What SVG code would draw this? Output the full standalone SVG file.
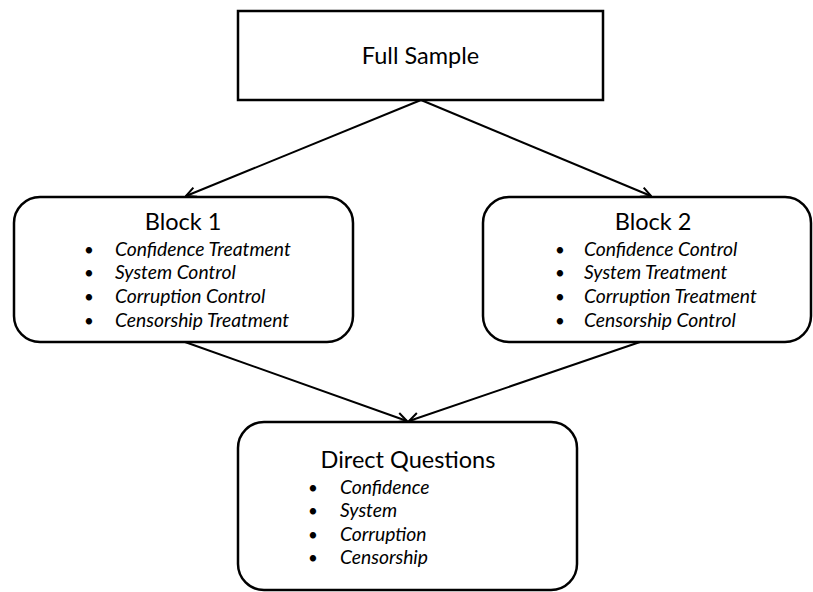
<svg xmlns="http://www.w3.org/2000/svg" width="813" height="592" viewBox="0 0 813 592">
<defs>
<style>
.box{fill:#fff;stroke:#000;stroke-width:2.5}
.title{font-family:Lato,"Liberation Sans",sans-serif;font-size:23.5px;fill:#000;text-anchor:middle}
.item{font-family:Lato,"Liberation Sans",sans-serif;font-size:19.3px;font-style:italic;fill:#000}
.bul{font-family:Lato,"Liberation Sans",sans-serif;font-size:17px;fill:#000}
.conn{stroke:#000;stroke-width:2;fill:none;marker-end:url(#arr)}
</style>
<marker id="arr" viewBox="0 0 12 12" refX="11" refY="6" markerWidth="12" markerHeight="12" markerUnits="userSpaceOnUse" orient="auto">
<path d="M1,1 L11,6 L1,11" fill="none" stroke="#000" stroke-width="2"/>
</marker>
</defs>
<rect width="813" height="592" fill="#fff"/>
<g id="connectors">
<line class="conn" x1="421" y1="100" x2="186" y2="196"/>
<line class="conn" x1="421" y1="100" x2="651" y2="196"/>
<line class="conn" x1="185" y1="342" x2="407" y2="421"/>
<line class="conn" x1="640" y1="342" x2="409" y2="421"/>
</g>
<g id="full-sample">
<rect class="box" x="238" y="11" width="365" height="89"/>
<text class="title" x="420.5" y="64">Full Sample</text>
</g>
<g id="block1">
<rect class="box" x="14" y="197" width="339" height="145" rx="26" ry="26"/>
<text class="title" x="183" y="230">Block 1</text>
<g class="bul"><text x="84" y="256">•</text><text x="84" y="279">•</text><text x="84" y="303">•</text><text x="84" y="327">•</text></g>
<text class="item" x="115" y="256">Confidence Treatment</text>
<text class="item" x="115" y="279">System Control</text>
<text class="item" x="115" y="303">Corruption Control</text>
<text class="item" x="115" y="327">Censorship Treatment</text>
</g>
<g id="block2">
<rect class="box" x="483" y="197" width="328" height="145" rx="26" ry="26"/>
<text class="title" x="653" y="230">Block 2</text>
<g class="bul"><text x="555" y="256">•</text><text x="555" y="279">•</text><text x="555" y="303">•</text><text x="555" y="327">•</text></g>
<text class="item" x="584" y="256">Confidence Control</text>
<text class="item" x="584" y="279">System Treatment</text>
<text class="item" x="584" y="303">Corruption Treatment</text>
<text class="item" x="584" y="327">Censorship Control</text>
</g>
<g id="direct-questions">
<rect class="box" x="238" y="422" width="339" height="168" rx="26" ry="26"/>
<text class="title" x="408" y="468">Direct Questions</text>
<g class="bul"><text x="308" y="494">•</text><text x="308" y="517">•</text><text x="308" y="541">•</text><text x="308" y="564">•</text></g>
<text class="item" x="340" y="494">Confidence</text>
<text class="item" x="340" y="517">System</text>
<text class="item" x="340" y="541">Corruption</text>
<text class="item" x="340" y="564">Censorship</text>
</g>
</svg>
